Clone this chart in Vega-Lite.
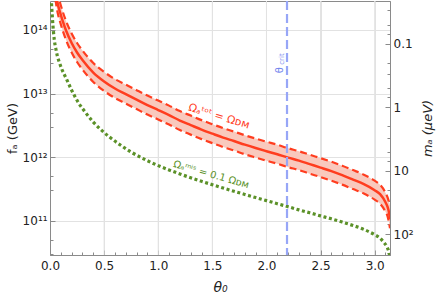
{
  "$schema": "https://vega.github.io/schema/vega-lite/v6.json",
  "width": 340,
  "height": 254,
  "autosize": {"type": "none"},
  "padding": {"left": 50, "top": 1, "right": 46, "bottom": 42},
  "background": "white",
  "config": {
    "view": {"stroke": "#8a8a8a", "strokeWidth": 1},
    "font": "DejaVu Sans",
    "axis": {"labelFont": "DejaVu Sans", "titleFont": "DejaVu Sans", "labelColor": "#222", "titleColor": "#222", "titleFontWeight": "normal", "domainColor": "#8a8a8a", "tickColor": "#8a8a8a", "labelFlush": false, "labelOverlap": false}
  },
  "datasets": {
    "red": [
      {"theta": 0.05, "fa": 4.27e14, "hi": 6.02e14, "lo": 3.03e14},
      {"theta": 0.07, "fa": 2.66e14, "hi": 3.75e14, "lo": 1.89e14},
      {"theta": 0.095, "fa": 1.85e14, "hi": 2.61e14, "lo": 1.31e14},
      {"theta": 0.12, "fa": 1.34e14, "hi": 1.89e14, "lo": 9.50e13},
      {"theta": 0.15, "fa": 9.64e13, "hi": 1.36e14, "lo": 6.83e13},
      {"theta": 0.2, "fa": 6.24e13, "hi": 8.80e13, "lo": 4.42e13},
      {"theta": 0.25, "fa": 4.43e13, "hi": 6.25e13, "lo": 3.14e13},
      {"theta": 0.3, "fa": 3.37e13, "hi": 4.75e13, "lo": 2.39e13},
      {"theta": 0.4, "fa": 2.14e13, "hi": 3.02e13, "lo": 1.52e13},
      {"theta": 0.5, "fa": 1.55e13, "hi": 2.19e13, "lo": 1.10e13},
      {"theta": 0.6, "fa": 1.20e13, "hi": 1.69e13, "lo": 8.51e12},
      {"theta": 0.7, "fa": 9.82e12, "hi": 1.38e13, "lo": 6.96e12},
      {"theta": 0.8, "fa": 8.04e12, "hi": 1.13e13, "lo": 5.70e12},
      {"theta": 0.9, "fa": 6.59e12, "hi": 9.29e12, "lo": 4.67e12},
      {"theta": 1.0, "fa": 5.50e12, "hi": 7.76e12, "lo": 3.90e12},
      {"theta": 1.1, "fa": 4.58e12, "hi": 6.46e12, "lo": 3.25e12},
      {"theta": 1.2, "fa": 3.76e12, "hi": 5.30e12, "lo": 2.67e12},
      {"theta": 1.3, "fa": 3.19e12, "hi": 4.50e12, "lo": 2.26e12},
      {"theta": 1.4, "fa": 2.71e12, "hi": 3.82e12, "lo": 1.92e12},
      {"theta": 1.5, "fa": 2.34e12, "hi": 3.30e12, "lo": 1.66e12},
      {"theta": 1.6, "fa": 2.03e12, "hi": 2.86e12, "lo": 1.44e12},
      {"theta": 1.7, "fa": 1.79e12, "hi": 2.52e12, "lo": 1.27e12},
      {"theta": 1.8, "fa": 1.57e12, "hi": 2.21e12, "lo": 1.11e12},
      {"theta": 1.9, "fa": 1.39e12, "hi": 1.96e12, "lo": 9.86e11},
      {"theta": 2.0, "fa": 1.24e12, "hi": 1.75e12, "lo": 8.79e11},
      {"theta": 2.1, "fa": 1.11e12, "hi": 1.57e12, "lo": 7.87e11},
      {"theta": 2.2, "fa": 9.82e11, "hi": 1.38e12, "lo": 6.96e11},
      {"theta": 2.3, "fa": 8.81e11, "hi": 1.24e12, "lo": 6.25e11},
      {"theta": 2.4, "fa": 7.76e11, "hi": 1.09e12, "lo": 5.50e11},
      {"theta": 2.5, "fa": 6.84e11, "hi": 9.64e11, "lo": 4.85e11},
      {"theta": 2.6, "fa": 6.01e11, "hi": 8.47e11, "lo": 4.26e11},
      {"theta": 2.7, "fa": 5.20e11, "hi": 7.33e11, "lo": 3.69e11},
      {"theta": 2.8, "fa": 4.43e11, "hi": 6.25e11, "lo": 3.14e11},
      {"theta": 2.9, "fa": 3.76e11, "hi": 5.30e11, "lo": 2.67e11},
      {"theta": 3.0, "fa": 3.02e11, "hi": 4.26e11, "lo": 2.14e11},
      {"theta": 3.05, "fa": 2.61e11, "hi": 3.68e11, "lo": 1.85e11},
      {"theta": 3.1, "fa": 1.95e11, "hi": 2.75e11, "lo": 1.38e11},
      {"theta": 3.12, "fa": 1.63e11, "hi": 2.30e11, "lo": 1.16e11},
      {"theta": 3.13, "fa": 1.41e11, "hi": 2.03e11, "lo": 9.82e10},
      {"theta": 3.1416, "fa": 1.06e11, "hi": 1.75e11, "lo": 7.62e10}
    ],
    "green": [
      {"theta": 0.008, "fa": 3.96e14},
      {"theta": 0.012, "fa": 2.97e14},
      {"theta": 0.033, "fa": 8.97e13},
      {"theta": 0.06, "fa": 4.50e13},
      {"theta": 0.095, "fa": 2.81e13},
      {"theta": 0.157, "fa": 1.63e13},
      {"theta": 0.2, "fa": 1.13e13},
      {"theta": 0.265, "fa": 7.08e12},
      {"theta": 0.311, "fa": 5.50e12},
      {"theta": 0.4, "fa": 3.56e12},
      {"theta": 0.465, "fa": 2.76e12},
      {"theta": 0.55, "fa": 2.07e12},
      {"theta": 0.65, "fa": 1.55e12},
      {"theta": 0.75, "fa": 1.20e12},
      {"theta": 0.9, "fa": 8.78e11},
      {"theta": 1.0, "fa": 7.35e11},
      {"theta": 1.1, "fa": 6.29e11},
      {"theta": 1.2, "fa": 5.44e11},
      {"theta": 1.3, "fa": 4.74e11},
      {"theta": 1.4, "fa": 4.16e11},
      {"theta": 1.5, "fa": 3.68e11},
      {"theta": 1.6, "fa": 3.26e11},
      {"theta": 1.7, "fa": 2.90e11},
      {"theta": 1.8, "fa": 2.59e11},
      {"theta": 1.9, "fa": 2.31e11},
      {"theta": 2.0, "fa": 2.07e11},
      {"theta": 2.1, "fa": 1.85e11},
      {"theta": 2.2, "fa": 1.66e11},
      {"theta": 2.3, "fa": 1.48e11},
      {"theta": 2.4, "fa": 1.33e11},
      {"theta": 2.5, "fa": 1.19e11},
      {"theta": 2.6, "fa": 1.07e11},
      {"theta": 2.7, "fa": 9.51e10},
      {"theta": 2.8, "fa": 8.40e10},
      {"theta": 2.9, "fa": 7.29e10},
      {"theta": 3.0, "fa": 6.02e10},
      {"theta": 3.05, "fa": 5.30e10},
      {"theta": 3.083, "fa": 4.59e10},
      {"theta": 3.115, "fa": 3.82e10},
      {"theta": 3.132, "fa": 3.19e10},
      {"theta": 3.1416, "fa": 2.57e10}
    ]
  },
  "resolve": {"axis": {"x": "independent", "y": "independent"}},
  "layer": [
    {
      "data": {"values": [{"g": 0.5}, {"g": 1.0}, {"g": 1.5}, {"g": 2.0}, {"g": 2.5}, {"g": 3.0}]},
      "mark": {"type": "rule", "color": "#e2e2e2", "strokeWidth": 1},
      "encoding": {
        "x": {
          "field": "g", "type": "quantitative", "title": "θ₀",
          "scale": {"domain": [0, 3.14159], "nice": false, "zero": false},
          "axis": {
            "orient": "bottom",
            "values": [0, 0.5, 1, 1.5, 2, 2.5, 3],
            "format": ".1f",
            "grid": true,
            "gridColor": "#e2e2e2",
            "tickSize": -5,
            "labelFontSize": 12,
            "labelPadding": 10,
            "titleFontSize": 14,
            "titleFontStyle": "italic",
            "titlePadding": 9
          }
        }
      }
    },
    {
      "data": {"name": "red"},
      "mark": {"type": "area", "color": "#f9c9bd", "opacity": 1, "clip": true, "interpolate": "monotone"},
      "encoding": {
        "x": {"field": "theta", "type": "quantitative", "axis": null},
        "y": {
          "field": "lo", "type": "quantitative", "title": "fₐ (GeV)",
          "scale": {"type": "log", "domain": [2.886e10, 2.858e14], "nice": false},
          "axis": {
            "orient": "left",
            "values": [3e10, 5e10, 1e11, 3e11, 5e11, 1e12, 3e12, 5e12, 1e13, 3e13, 5e13, 1e14],
            "labelExpr": "datum.value == 1e11 ? '10¹¹' : datum.value == 1e12 ? '10¹²' : datum.value == 1e13 ? '10¹³' : datum.value == 1e14 ? '10¹⁴' : ''",
            "grid": true,
            "gridColor": "#e2e2e2",
            "gridOpacity": {"condition": {"test": "datum.value == 1e11 || datum.value == 1e12 || datum.value == 1e13 || datum.value == 1e14", "value": 1}, "value": 0},
            "tickSize": {"condition": {"test": "datum.value == 1e11 || datum.value == 1e12 || datum.value == 1e13 || datum.value == 1e14", "value": -5}, "value": -3},
            "labelFontSize": 12,
            "labelPadding": 8,
            "titleFontSize": 13,
            "titlePadding": 3
          }
        },
        "y2": {"field": "hi"}
      }
    },
    {
      "data": {"name": "red"},
      "mark": {"type": "line", "color": "#ff3d1f", "strokeWidth": 2.2, "strokeDash": [7, 4], "clip": true, "interpolate": "monotone"},
      "encoding": {
        "x": {
          "field": "theta", "type": "quantitative",
          "axis": {
            "orient": "bottom",
            "values": [0.1, 0.2, 0.3, 0.4, 0.6, 0.7, 0.8, 0.9, 1.1, 1.2, 1.3, 1.4, 1.6, 1.7, 1.8, 1.9, 2.1, 2.2, 2.3, 2.4, 2.6, 2.7, 2.8, 2.9, 3.1],
            "labels": false, "grid": false, "domain": false, "tickSize": -3, "title": null
          }
        },
        "y": {
          "field": "hi", "type": "quantitative",
          "axis": {
            "orient": "right",
            "values": [2.033e14, 1.22e14, 8.714e13, 6.1e13, 3.05e13, 2.033e13, 1.22e13, 8.714e12, 6.1e12, 3.05e12, 2.033e12, 1.22e12, 8.714e11, 6.1e11, 3.05e11, 2.033e11, 1.22e11, 8.714e10, 6.1e10, 3.05e10],
            "labelExpr": "datum.value == 6.1e13 ? '0.1' : datum.value == 6.1e12 ? '1' : datum.value == 6.1e11 ? '10' : datum.value == 6.1e10 ? '10²' : ''",
            "grid": false,
            "tickSize": {"condition": {"test": "datum.value == 6.1e13 || datum.value == 6.1e12 || datum.value == 6.1e11 || datum.value == 6.1e10", "value": -5}, "value": -3},
            "labelFontSize": 12,
            "labelPadding": 8,
            "title": "mₐ (μeV)",
            "titleFontSize": 13,
            "titleFontStyle": "italic",
            "titleAngle": 270,
            "titleBaseline": "top",
            "titlePadding": 8
          }
        }
      }
    },
    {
      "data": {"name": "red"},
      "mark": {"type": "line", "color": "#ff3d1f", "strokeWidth": 2.2, "strokeDash": [7, 4], "clip": true, "interpolate": "monotone"},
      "encoding": {"x": {"field": "theta", "type": "quantitative", "axis": null}, "y": {"field": "lo", "type": "quantitative", "axis": null}}
    },
    {
      "data": {"name": "red"},
      "mark": {"type": "line", "color": "#ff3d1f", "strokeWidth": 2.5, "clip": true, "interpolate": "monotone"},
      "encoding": {"x": {"field": "theta", "type": "quantitative", "axis": null}, "y": {"field": "fa", "type": "quantitative", "axis": null}}
    },
    {
      "data": {"name": "green"},
      "mark": {"type": "line", "color": "#5b9128", "strokeWidth": 3.2, "strokeDash": [3, 2.6], "strokeCap": "butt", "clip": true, "interpolate": "monotone"},
      "encoding": {"x": {"field": "theta", "type": "quantitative", "axis": null}, "y": {"field": "fa", "type": "quantitative", "axis": null}}
    },
    {
      "data": {"values": [{"theta": 2.19}]},
      "mark": {"type": "rule", "color": "#97a6f7", "strokeWidth": 2.2, "strokeDash": [9, 4]},
      "encoding": {"x": {"field": "theta", "type": "quantitative", "axis": null}}
    },
    {
      "data": {"values": [{"theta": 1.561, "fa": 4.34e12, "label": "Ωₐᵗᵒᵗ = Ωᴅᴍ"}]},
      "mark": {"type": "text", "color": "#ff3d1f", "fontSize": 11, "angle": 17, "align": "center", "baseline": "middle"},
      "encoding": {"x": {"field": "theta", "type": "quantitative", "axis": null}, "y": {"field": "fa", "type": "quantitative", "axis": null}, "text": {"field": "label"}}
    },
    {
      "data": {"values": [{"theta": 1.49, "fa": 5.3e11, "label": "Ωₐᵐⁱˢ = 0.1 Ωᴅᴍ"}]},
      "mark": {"type": "text", "color": "#5b9128", "fontSize": 10, "angle": 16, "align": "center", "baseline": "middle"},
      "encoding": {"x": {"field": "theta", "type": "quantitative", "axis": null}, "y": {"field": "fa", "type": "quantitative", "axis": null}, "text": {"field": "label"}}
    },
    {
      "data": {"values": [{"theta": 2.121, "fa": 2.34e13, "label": "θ", "size": 10}, {"theta": 2.14, "fa": 3.49e13, "label": "crit", "size": 7}]},
      "mark": {"type": "text", "color": "#7587ee", "angle": 270, "align": "center", "baseline": "middle"},
      "encoding": {"x": {"field": "theta", "type": "quantitative", "axis": null}, "y": {"field": "fa", "type": "quantitative", "axis": null}, "text": {"field": "label"}, "size": {"field": "size", "type": "quantitative", "scale": null}}
    }
  ]
}
